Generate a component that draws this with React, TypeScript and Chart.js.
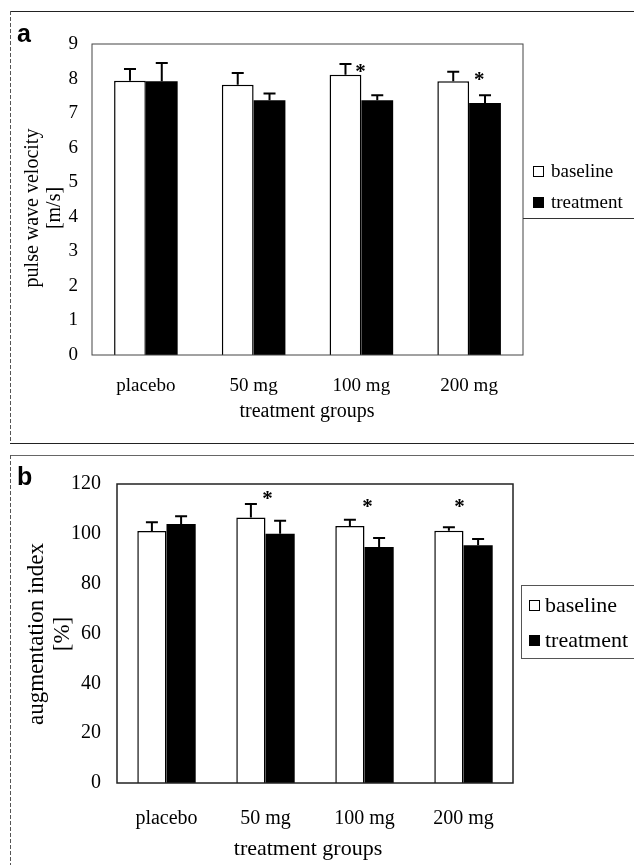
import React, { useEffect, useRef } from 'react';
import { Chart, registerables } from 'chart.js';

Chart.register(...registerables);

// ---------- data ----------
const categories = ['placebo', '50 mg', '100 mg', '200 mg'];
const seriesNames = ['baseline', 'treatment'];

// panel a: pulse wave velocity [m/s]
const pwvBaseline = [7.94, 7.82, 8.11, 7.92];
const pwvBaselineErr = [0.34, 0.34, 0.31, 0.28];
const pwvTreatment = [7.92, 7.37, 7.37, 7.29];
const pwvTreatmentErr = [0.53, 0.2, 0.15, 0.23];
const pwvTickMin = 0;
const pwvTickMax = 9;
const pwvTickStep = 1;
const pwvStarCategories = ['100 mg', '200 mg'];
const pwvStarLevels = [8.33, 8.1];

// panel b: augmentation index [%]
const aixBaseline = [101.1, 106.6, 103.1, 101.2];
const aixBaselineErr = [3.5, 5.4, 2.6, 1.4];
const aixTreatment = [103.9, 100.0, 94.7, 95.4];
const aixTreatmentErr = [3.2, 5.3, 3.6, 2.5];
const aixTickMin = 0;
const aixTickMax = 120;
const aixTickStep = 20;
const aixStarCategories = ['50 mg', '100 mg', '200 mg'];
const aixStarLevels = [115.6, 112.4, 112.4];

const SERIF = '"Liberation Serif", "Times New Roman", serif';
const SANS = '"Liberation Sans", Arial, sans-serif';

const decorPlugin = {
  id: 'decor',
  beforeDraw(chart: any, _args: any, o: any) {
    const ctx = chart.ctx;
    ctx.save();
    ctx.fillStyle = '#fff';
    ctx.fillRect(0, 0, chart.width, chart.height);
    ctx.lineWidth = 1;
    (o.frameLines || []).forEach((l: any) => {
      ctx.strokeStyle = l.color;
      ctx.setLineDash(l.dash || []);
      ctx.beginPath();
      ctx.moveTo(l.x1, l.y1);
      ctx.lineTo(l.x2, l.y2);
      ctx.stroke();
    });
    ctx.setLineDash([]);
    ctx.restore();
  },
  afterDatasetsDraw(chart: any, _args: any, o: any) {
    const ctx = chart.ctx;
    const ys = chart.scales.y;
    const xs = chart.scales.x;
    const ca = chart.chartArea;
    ctx.save();
    // error bars
    ctx.strokeStyle = '#000';
    ctx.lineWidth = 2;
    chart.data.datasets.forEach((ds: any, di: number) => {
      const meta = chart.getDatasetMeta(di);
      const errs = o.errors[di];
      meta.data.forEach((bar: any, i: number) => {
        const v = ds.data[i];
        const top = ys.getPixelForValue(v + errs[i]);
        ctx.beginPath();
        ctx.moveTo(bar.x, bar.y);
        ctx.lineTo(bar.x, top);
        ctx.moveTo(bar.x - o.cap, top);
        ctx.lineTo(bar.x + o.cap, top);
        ctx.stroke();
      });
    });
    // plot border
    ctx.lineWidth = o.borderWidth;
    ctx.strokeStyle = o.borderColor;
    ctx.strokeRect(ca.left, ca.top, ca.right - ca.left, ca.bottom - ca.top);
    // stars
    ctx.fillStyle = '#000';
    ctx.font = `bold ${o.starSize}px ${SERIF}`;
    ctx.textAlign = 'center';
    ctx.textBaseline = 'alphabetic';
    o.starCats.forEach((c: string, k: number) => {
      const idx = chart.data.labels.indexOf(c);
      const x = xs.getPixelForValue(idx) + (o.starDx[k] || 0);
      const y = ys.getPixelForValue(o.starLevels[k]);
      ctx.fillText('*', x, y + o.starSize * 0.5);
    });
    // axis titles
    ctx.font = `${o.titleSize}px ${SERIF}`;
    ctx.textAlign = 'center';
    ctx.fillText(o.xTitle, o.xTitleX, o.xTitleY);
    ctx.font = `${o.yTitleSize}px ${SERIF}`;
    o.yTitle.forEach((line: string, k: number) => {
      ctx.save();
      ctx.translate(o.yTitleX[k], o.yTitleCY);
      ctx.rotate(-Math.PI / 2);
      ctx.textBaseline = 'middle';
      ctx.fillText(line, 0, 0);
      ctx.restore();
    });
    // panel letter
    ctx.font = `bold ${o.letterSize}px ${SANS}`;
    ctx.textAlign = 'left';
    ctx.textBaseline = 'alphabetic';
    ctx.fillText(o.letter, o.letterX, o.letterY);
    // legend
    const lg = o.legend;
    ctx.lineWidth = 1;
    ctx.strokeStyle = lg.lineColor;
    if (lg.box) {
      ctx.strokeRect(lg.box[0], lg.box[1], lg.box[2], lg.box[3]);
    }
    if (lg.underline) {
      ctx.beginPath();
      ctx.moveTo(lg.underline[0], lg.underline[1]);
      ctx.lineTo(lg.underline[2], lg.underline[1]);
      ctx.stroke();
    }
    ctx.font = `${lg.size}px ${SERIF}`;
    chart.data.datasets.forEach((ds: any, di: number) => {
      const sy = lg.rowY[di];
      ctx.fillStyle = ds.backgroundColor;
      ctx.fillRect(lg.sqX, sy, lg.sq, lg.sq);
      ctx.strokeStyle = '#000';
      ctx.lineWidth = 1;
      ctx.strokeRect(lg.sqX + 0.5, sy + 0.5, lg.sq - 1, lg.sq - 1);
      ctx.fillStyle = '#000';
      ctx.fillText(ds.label, lg.textX, lg.textY[di]);
    });
    ctx.restore();
  },
};

function makeConfig(p: any) {
  return {
    type: 'bar',
    data: {
      labels: categories,
      datasets: [
        {
          label: seriesNames[0],
          data: p.base,
          backgroundColor: '#ffffff',
          borderColor: '#000000',
          borderWidth: 1.5,
          categoryPercentage: 0.59,
          barPercentage: 1,
        },
        {
          label: seriesNames[1],
          data: p.treat,
          backgroundColor: '#000000',
          borderColor: '#000000',
          borderWidth: 0,
          categoryPercentage: 0.59,
          barPercentage: 1,
        },
      ],
    },
    options: {
      animation: false,
      responsive: false,
      devicePixelRatio: 1,
      events: [],
      layout: { padding: p.padding },
      plugins: {
        legend: { display: false },
        tooltip: { enabled: false },
        title: { display: false },
        decor: p.decor,
      },
      scales: {
        x: {
          grid: { display: false, drawTicks: false },
          border: { display: false },
          ticks: {
            color: '#000',
            font: { family: SERIF, size: p.tickSize },
            padding: p.xTickPad,
            maxRotation: 0,
          },
          afterFit: (s: any) => {
            s.height = p.xHeight;
          },
        },
        y: {
          min: p.min,
          max: p.max,
          grid: { display: false, drawTicks: false },
          border: { display: false },
          ticks: {
            stepSize: p.step,
            color: '#000',
            font: { family: SERIF, size: p.tickSize },
            padding: p.yTickPad,
          },
          afterFit: (s: any) => {
            s.width = p.yWidth;
          },
        },
      },
    },
    plugins: [decorPlugin],
  };
}

const W = 634;
const HA = 445;
const HB = 420;

export default function App() {
  const refA = useRef<HTMLCanvasElement>(null);
  const refB = useRef<HTMLCanvasElement>(null);

  useEffect(() => {
    const cfgA = makeConfig({
      base: pwvBaseline,
      treat: pwvTreatment,
      min: pwvTickMin,
      max: pwvTickMax,
      step: pwvTickStep,
      tickSize: 19,
      xTickPad: 20,
      yTickPad: 14,
      xHeight: 90,
      yWidth: 92,
      padding: { left: 0, top: 44, right: 111, bottom: 0 },
      decor: {
        frameLines: [
          { x1: 10, y1: 11.5, x2: 634, y2: 11.5, color: '#222' },
          { x1: 10.5, y1: 11, x2: 10.5, y2: 443, color: '#555', dash: [4, 2] },
          { x1: 10, y1: 443.5, x2: 634, y2: 443.5, color: '#222' },
        ],
        errors: [pwvBaselineErr, pwvTreatmentErr],
        cap: 6,
        borderWidth: 1,
        borderColor: '#444',
        starCats: pwvStarCategories,
        starLevels: pwvStarLevels,
        starDx: [-1, 10],
        starSize: 21,
        titleSize: 20,
        yTitleSize: 20,
        xTitle: 'treatment groups',
        xTitleX: 307,
        xTitleY: 417,
        yTitle: ['pulse wave velocity', '[m/s]'],
        yTitleX: [33, 55],
        yTitleCY: 208,
        letter: 'a',
        letterSize: 25,
        letterX: 17,
        letterY: 42,
        legend: {
          size: 19,
          lineColor: '#333',
          underline: [523, 218.5, 634],
          sqX: 533,
          sq: 11,
          rowY: [166, 197],
          textX: 551,
          textY: [177, 208],
        },
      },
    });
    const cfgB = makeConfig({
      base: aixBaseline,
      treat: aixTreatment,
      min: aixTickMin,
      max: aixTickMax,
      step: aixTickStep,
      tickSize: 20,
      xTickPad: 24,
      yTickPad: 16,
      xHeight: 82,
      yWidth: 117,
      padding: { left: 0, top: 39, right: 121, bottom: 0 },
      decor: {
        frameLines: [
          { x1: 10, y1: 10.5, x2: 634, y2: 10.5, color: '#666' },
          { x1: 10.5, y1: 10, x2: 10.5, y2: 420, color: '#555', dash: [4, 2] },
        ],
        errors: [aixBaselineErr, aixTreatmentErr],
        cap: 6,
        borderWidth: 1.5,
        borderColor: '#222',
        starCats: aixStarCategories,
        starLevels: aixStarLevels,
        starDx: [2, 3, -4],
        starSize: 21,
        titleSize: 22,
        yTitleSize: 23,
        xTitle: 'treatment groups',
        xTitleX: 308,
        xTitleY: 410,
        yTitle: ['augmentation index', '[%]'],
        yTitleX: [37, 63],
        yTitleCY: 189,
        letter: 'b',
        letterSize: 25,
        letterX: 17,
        letterY: 40,
        legend: {
          size: 22,
          lineColor: '#555',
          box: [521.5, 140.5, 113, 73],
          sqX: 529,
          sq: 11,
          rowY: [155, 190],
          textX: 545,
          textY: [167, 202],
        },
      },
    });
    const a = new Chart(refA.current as HTMLCanvasElement, cfgA as any);
    const b = new Chart(refB.current as HTMLCanvasElement, cfgB as any);
    return () => {
      a.destroy();
      b.destroy();
    };
  }, []);

  return (
    <div style={{ position: 'absolute', left: 0, top: 0, width: W, height: HA + HB, background: '#fff' }}>
      <canvas ref={refA} width={W} height={HA} style={{ position: 'absolute', left: 0, top: 0, width: W, height: HA }} />
      <canvas ref={refB} width={W} height={HB} style={{ position: 'absolute', left: 0, top: HA, width: W, height: HB }} />
    </div>
  );
}
